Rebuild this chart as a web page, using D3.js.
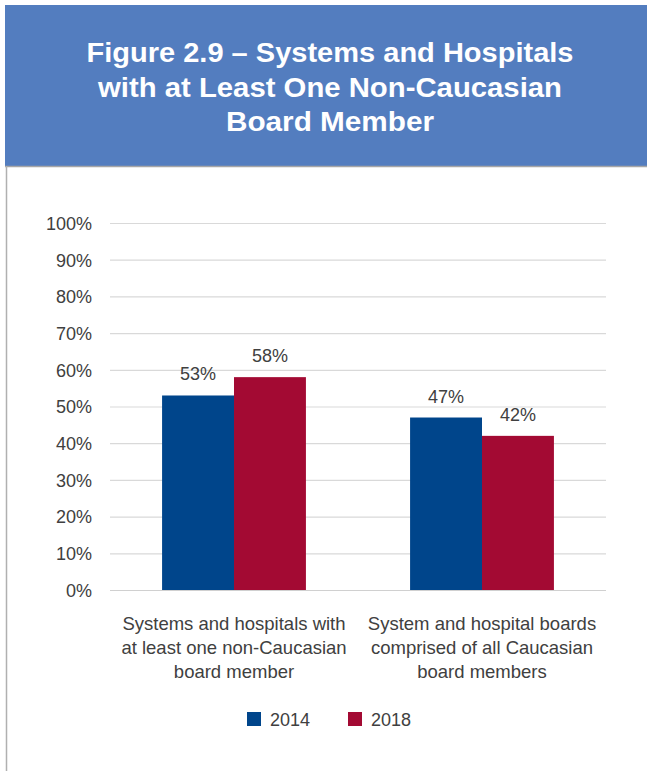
<!DOCTYPE html>
<html>
<head>
<meta charset="utf-8">
<script src="https://cdn.jsdelivr.net/npm/d3@7"></script>
<style>
  html, body { margin: 0; padding: 0; background: #ffffff; }
  svg { display: block; }
</style>
</head>
<body>
<div id="chart"></div>
<script>
// Chart data
const titleLines = [
  "Figure 2.9 \u2013 Systems and Hospitals",
  "with at Least One Non-Caucasian",
  "Board Member"
];
const categories = [
  "Systems and hospitals with at least one non-Caucasian board member",
  "System and hospital boards comprised of all Caucasian board members"
];
const categoryLines = [
  ["Systems and hospitals with", "at least one non-Caucasian", "board member"],
  ["System and hospital boards", "comprised of all Caucasian", "board members"]
];
const seriesNames = ["2014", "2018"];
const values2014 = [53, 47];
const values2018 = [58, 42];
const yTicks = [0, 10, 20, 30, 40, 50, 60, 70, 80, 90, 100];

const W = 647, H = 771;
const colors = { "2014": "#00458b", "2018": "#a30a33" };
const textColor = "#404040";
const font = "'Liberation Sans', Arial, sans-serif";

const svg = d3.select("#chart").append("svg")
  .attr("width", W).attr("height", H);

// Header band
svg.append("rect").attr("x", 5).attr("y", 5).attr("width", W - 5).attr("height", 161)
  .attr("fill", "#537dbf");
svg.append("line").attr("x1", 5).attr("x2", W).attr("y1", 166.5).attr("y2", 166.5)
  .attr("stroke", "#a6a6a6").attr("stroke-width", 1.5);
// Left frame line
svg.append("line").attr("x1", 6.5).attr("x2", 6.5).attr("y1", 166).attr("y2", H)
  .attr("stroke", "#b0b0b0").attr("stroke-width", 1.5);

const titleWidths = [487, 464, 208];
svg.append("g").selectAll("text").data(titleLines).join("text")
  .attr("x", 330)
  .attr("y", (d, i) => 62 + i * 34.5)
  .attr("text-anchor", "middle")
  .attr("fill", "#ffffff")
  .attr("font-family", font)
  .attr("font-weight", "bold")
  .attr("font-size", 27)
  .attr("textLength", (d, i) => titleWidths[i])
  .attr("lengthAdjust", "spacingAndGlyphs")
  .text(d => d);

// Scales
const x = d3.scaleBand().domain(categories).range([110, 606])
  .paddingInner(0.42).paddingOuter(0.21);
const xSub = d3.scaleBand().domain(seriesNames).range([0, x.bandwidth()]);
const y = d3.scaleLinear().domain([0, 100]).range([590, 223]);

// Gridlines
svg.append("g").selectAll("line").data(yTicks).join("line")
  .attr("x1", 110).attr("x2", 606)
  .attr("y1", d => y(d) + 0.5).attr("y2", d => y(d) + 0.5)
  .attr("stroke", "#d9d9d9").attr("stroke-width", 1.2);

// Y axis labels
const yAxis = d3.axisLeft(y).tickValues(yTicks).tickSize(0).tickPadding(0)
  .tickFormat(d => d + "%");
const yg = svg.append("g").attr("transform", "translate(92,0)").call(yAxis);
yg.select(".domain").remove();
yg.selectAll("text")
  .attr("fill", textColor)
  .attr("font-family", font)
  .attr("font-size", 18)
  .attr("dy", "0.35em");

// Bars
const rows = categories.map((c, i) => ({
  category: c,
  items: [
    { series: "2014", value: values2014[i] },
    { series: "2018", value: values2018[i] }
  ]
}));

const groups = svg.append("g").selectAll("g").data(rows).join("g")
  .attr("transform", d => `translate(${x(d.category)},0)`);

groups.selectAll("rect").data(d => d.items).join("rect")
  .attr("x", d => xSub(d.series))
  .attr("y", d => y(d.value))
  .attr("width", xSub.bandwidth())
  .attr("height", d => y(0) - y(d.value))
  .attr("fill", d => colors[d.series]);

groups.selectAll("text.val").data(d => d.items).join("text")
  .attr("class", "val")
  .attr("x", d => xSub(d.series) + xSub.bandwidth() / 2)
  .attr("y", d => y(d.value) - 15)
  .attr("text-anchor", "middle")
  .attr("fill", textColor)
  .attr("font-family", font)
  .attr("font-size", 18)
  .text(d => d.value + "%");

// X axis baseline
svg.append("line").attr("x1", 110).attr("x2", 606)
  .attr("y1", y(0) + 0.5).attr("y2", y(0) + 0.5)
  .attr("stroke", "#d0d0d0").attr("stroke-width", 1.2);

// Category labels
categories.forEach((c, i) => {
  svg.append("text")
    .attr("x", x(c) + x.bandwidth() / 2)
    .attr("y", 630)
    .attr("text-anchor", "middle")
    .attr("fill", textColor)
    .attr("font-family", font)
    .attr("font-size", 18.5)
    .selectAll("tspan").data(categoryLines[i]).join("tspan")
    .attr("x", x(c) + x.bandwidth() / 2)
    .attr("dy", (d, j) => j === 0 ? 0 : 24)
    .text(d => d);
});

// Legend
const legendX = [247, 348];
const legend = svg.append("g").selectAll("g").data(seriesNames).join("g")
  .attr("transform", (d, i) => `translate(${legendX[i]},712)`);
legend.append("rect").attr("width", 14).attr("height", 14)
  .attr("fill", d => colors[d]);
legend.append("text").attr("x", 23).attr("y", 13.5)
  .attr("fill", textColor)
  .attr("font-family", font)
  .attr("font-size", 18)
  .text(d => d);
</script>
</body>
</html>
